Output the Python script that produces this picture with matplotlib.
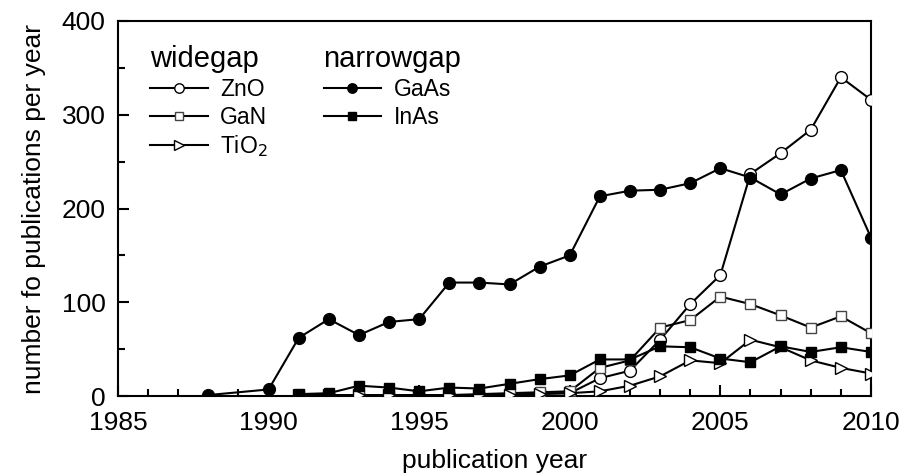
import matplotlib
matplotlib.use("Agg")
import matplotlib.pyplot as plt
from matplotlib.ticker import MultipleLocator

plt.rcParams["font.family"] = ["Liberation Sans", "DejaVu Sans"]

years_zno = list(range(1991, 2011))
zno = [0, 0, 0, 0, 0, 1, 1, 1, 3, 3, 19, 27, 60, 98, 129, 237, 259, 284, 340, 316]

years_gan = list(range(1991, 2011))
gan = [1, 1, 1, 1, 1, 1, 2, 3, 4, 5, 30, 38, 73, 81, 106, 98, 86, 73, 85, 67]

years_tio2 = list(range(1991, 2011))
tio2 = [1, 1, 1, 1, 1, 1, 1, 1, 2, 3, 5, 11, 21, 38, 35, 60, 52, 38, 30, 24]

years_gaas = [1988] + list(range(1990, 2011))
gaas = [1, 7, 62, 82, 65, 79, 82, 121, 121, 119, 138, 150, 213, 219, 220, 227, 243, 233, 215, 232, 241, 169]

years_inas = list(range(1991, 2011))
inas = [2, 3, 11, 9, 5, 9, 8, 13, 18, 22, 39, 39, 53, 52, 40, 36, 53, 47, 52, 47]

fig = plt.figure(figsize=(9.02, 4.75), dpi=100)
ax = fig.add_axes([0.1308, 0.1663, 0.8348, 0.7895])

lw = 1.5
h_zno, = ax.plot(years_zno, zno, "o-", color="black", lw=lw, ms=8.5, mfc="white", mec="black", mew=1.0, label="ZnO", zorder=3)
h_gan, = ax.plot(years_gan, gan, "s-", color="black", lw=lw, ms=7.5, mfc="white", mec="#444444", mew=1.0, label="GaN", zorder=3)
h_tio2, = ax.plot(years_tio2, tio2, ">-", color="black", lw=lw, ms=9, mfc="white", mec="black", mew=1.0, label="TiO$_2$", zorder=3)
h_gaas, = ax.plot(years_gaas, gaas, "o-", color="black", lw=lw, ms=8.5, mfc="black", mec="black", label="GaAs", zorder=4)
h_inas, = ax.plot(years_inas, inas, "s-", color="black", lw=lw, ms=7.5, mfc="black", mec="black", label="InAs", zorder=4)

ax.set_xlim(1985, 2010)
ax.set_ylim(0, 400)
ax.xaxis.set_major_locator(MultipleLocator(5))
ax.xaxis.set_minor_locator(MultipleLocator(1))
ax.yaxis.set_major_locator(MultipleLocator(100))
ax.yaxis.set_minor_locator(MultipleLocator(50))
ax.tick_params(which="both", direction="in", top=False, right=False, labelsize=19, width=1.5)
ax.tick_params(which="major", length=8)
ax.tick_params(axis="y", which="major", pad=9)
ax.tick_params(axis="x", which="major", pad=11)
ax.tick_params(which="minor", length=5)
for s in ax.spines.values():
    s.set_linewidth(1.5)

ax.set_xlabel("publication year", fontsize=19, labelpad=10)
ax.set_ylabel("number fo publications per year", fontsize=19, labelpad=11)

leg_kw = dict(loc="upper left", frameon=False, fontsize=16.5, title_fontsize=21,
              handlelength=2.5, handletextpad=0.55, labelspacing=0.2, markerscale=0.8,
              borderaxespad=0.0, borderpad=0.0, alignment="left")
leg1 = ax.legend(handles=[h_zno, h_gan, h_tio2], title="widegap",
                 bbox_to_anchor=(0.043, 0.935), **leg_kw)
ax.add_artist(leg1)
ax.legend(handles=[h_gaas, h_inas], title="narrowgap",
          bbox_to_anchor=(0.273, 0.935), **leg_kw)

fig.savefig("out.png", dpi=100)
